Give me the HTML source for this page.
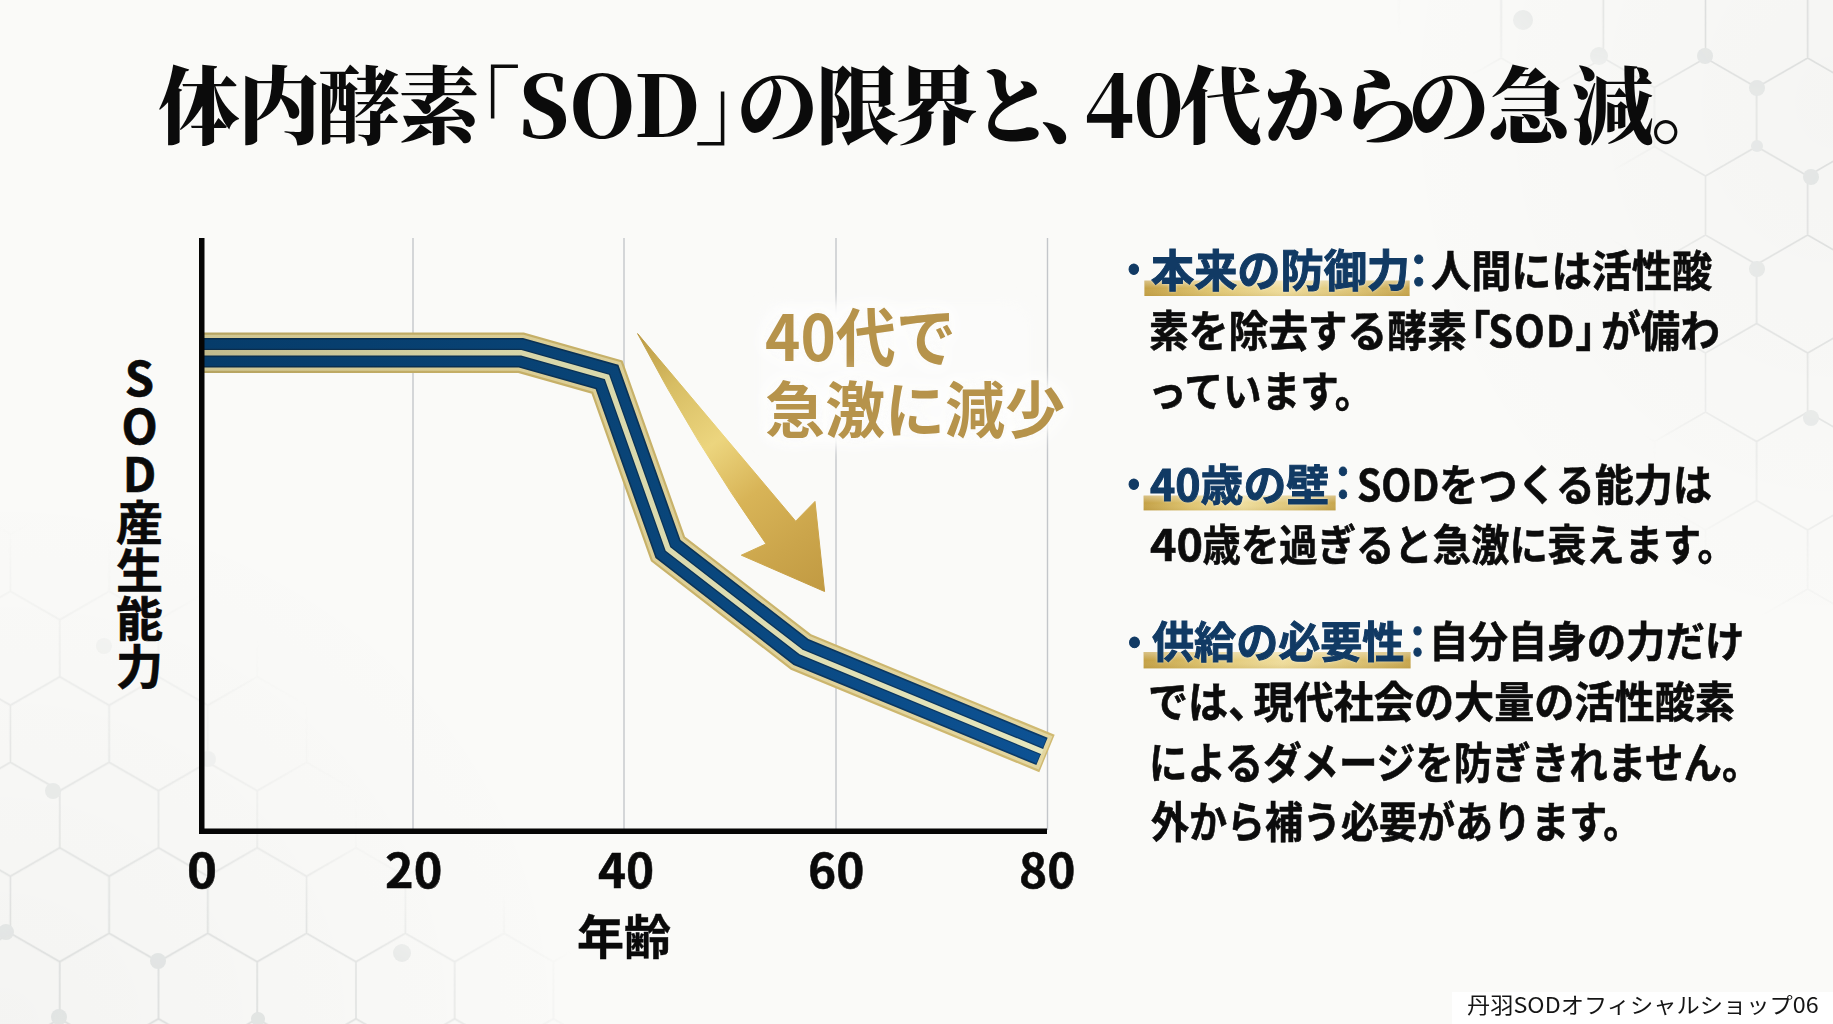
<!DOCTYPE html>
<html lang="ja">
<head>
<meta charset="utf-8">
<title>体内酵素「SOD」の限界と、40代からの急減。</title>
<style>
html,body{margin:0;padding:0;}
body{width:1833px;height:1024px;overflow:hidden;position:relative;background:radial-gradient(ellipse 600px 560px at 0% 100%,rgba(0,0,0,0.022),rgba(0,0,0,0) 100%),radial-gradient(ellipse 460px 560px at 100% 10%,rgba(0,0,0,0.02),rgba(0,0,0,0) 100%),#fafaf8;
  font-family:"Liberation Sans","Noto Sans CJK JP",sans-serif;color:#0a0a0a;}
#bg{position:absolute;left:0;top:0;width:1833px;height:1024px;}
.t{position:absolute;white-space:nowrap;line-height:1;margin:0;transform-origin:0 0;text-spacing-trim:space-all;}
.t span{display:inline-block;}
#title{left:158px;top:58.5px;transform:scaleY(1.025);font-family:"Noto Serif CJK JP","Noto Serif CJK SC","Liberation Serif",serif;
  font-weight:900;font-size:82px;letter-spacing:-2px;color:#0b0b0b;}
#title span{display:inline-block;}
.sans{font-family:"Noto Sans CJK JP","Liberation Sans",sans-serif;font-weight:700;-webkit-text-stroke:0.4px;}
.b{font-family:"Noto Sans CJK JP","Liberation Sans",sans-serif;font-weight:700;color:#0c0c0c;-webkit-text-stroke:0.6px;}
.hl{color:#113a64;-webkit-text-stroke:1px;text-shadow:0 0 2px rgba(255,255,255,0.7),0 0 4px rgba(255,255,255,0.5);}
.tick{font-family:"Noto Sans CJK JP","Liberation Sans",sans-serif;font-weight:700;-webkit-text-stroke:0.5px;}
#ylab{left:116px;top:355px;-webkit-text-stroke:0.6px;writing-mode:vertical-rl;text-orientation:upright;font-size:47px;letter-spacing:1px;
  font-family:"Noto Sans CJK JP","Liberation Sans",sans-serif;font-weight:700;}
.gold{font-family:"Noto Sans CJK JP","Liberation Sans",sans-serif;font-weight:700;color:#b6934b;
  text-shadow:0 0 6px #fbfbfa,0 0 10px #fbfbfa,0 0 16px #fbfbfa,0 0 22px #fbfbfa,0 0 28px #fbfbfa;}
#wm{position:absolute;left:1452px;top:992px;width:381px;height:32px;background:#fff;}
#wmt{font-family:"Noto Sans CJK JP","Liberation Sans",sans-serif;font-weight:400;color:#151515;}
</style>
</head>
<body>
<svg id="bg" width="1833" height="1024" viewBox="0 0 1833 1024">
  <defs>
    <linearGradient id="gArrow" x1="637" y1="333" x2="826" y2="591" gradientUnits="userSpaceOnUse">
      <stop offset="0" stop-color="#ba9842"/><stop offset="0.2" stop-color="#d8be64"/><stop offset="0.42" stop-color="#ecd57e"/><stop offset="0.62" stop-color="#d8b457"/><stop offset="0.82" stop-color="#cba54b"/><stop offset="1" stop-color="#c19a42"/>
    </linearGradient>
    <linearGradient id="rBlue" x1="204" y1="0" x2="1047" y2="0" gradientUnits="userSpaceOnUse">
      <stop offset="0" stop-color="#063c6a"/><stop offset="0.5" stop-color="#094477"/><stop offset="0.72" stop-color="#0a4a84"/><stop offset="1" stop-color="#0d5294"/>
    </linearGradient>
    <linearGradient id="rNavy" x1="204" y1="0" x2="1047" y2="0" gradientUnits="userSpaceOnUse">
      <stop offset="0" stop-color="#0a2d4c"/><stop offset="0.6" stop-color="#0a3358"/><stop offset="1" stop-color="#0b3a68"/>
    </linearGradient>
    <linearGradient id="rCream" x1="204" y1="0" x2="1047" y2="0" gradientUnits="userSpaceOnUse">
      <stop offset="0" stop-color="#c2bb8e"/><stop offset="0.35" stop-color="#d6d5a8"/><stop offset="1" stop-color="#e6e6bd"/>
    </linearGradient>
    <linearGradient id="rGoldD" x1="204" y1="0" x2="1047" y2="0" gradientUnits="userSpaceOnUse">
      <stop offset="0" stop-color="#b6a462"/><stop offset="0.3" stop-color="#c4ae66"/><stop offset="1" stop-color="#d0ba72"/>
    </linearGradient>
    <linearGradient id="rGoldL" x1="204" y1="0" x2="1047" y2="0" gradientUnits="userSpaceOnUse">
      <stop offset="0" stop-color="#cfc693"/><stop offset="0.3" stop-color="#d9cc94"/><stop offset="1" stop-color="#e3d6a0"/>
    </linearGradient>
    <filter id="blur8" x="-20%" y="-20%" width="140%" height="140%"><feGaussianBlur stdDeviation="7"/></filter>
    <linearGradient id="gUl" x1="0" y1="0" x2="1" y2="0">
      <stop offset="0" stop-color="#c4a146"/>
      <stop offset="0.25" stop-color="#dfc570"/>
      <stop offset="0.52" stop-color="#efdd9c"/>
      <stop offset="0.8" stop-color="#dcc272"/>
      <stop offset="1" stop-color="#c6a54c"/>
    </linearGradient>
    <linearGradient id="gUlv" x1="0" y1="0" x2="0" y2="1">
      <stop offset="0" stop-color="#fff" stop-opacity="0.35"/>
      <stop offset="0.5" stop-color="#fff" stop-opacity="0"/>
      <stop offset="1" stop-color="#8a6a20" stop-opacity="0.12"/>
    </linearGradient>
    <pattern id="hexA" width="98.73" height="171.00" patternUnits="userSpaceOnUse" patternTransform="translate(158.5,762.3)"><path d="M49.36,0 L98.73,28.50 L98.73,85.50 L49.36,114.00 L0,85.50 L0,28.50 Z M49.36,114.00 L49.36,171.00" fill="none" stroke="#d9dbda" stroke-width="1.6"/></pattern>
    <pattern id="hexB" width="102.19" height="177.00" patternUnits="userSpaceOnUse" patternTransform="translate(1756.6,58.0)"><path d="M51.10,0 L102.19,29.50 L102.19,88.50 L51.10,118.00 L0,88.50 L0,29.50 Z M51.10,118.00 L51.10,177.00" fill="none" stroke="#d9dbda" stroke-width="1.6"/></pattern>
    <radialGradient id="fade" cx="0.5" cy="0.5" r="0.5">
      <stop offset="0" stop-color="#fff" stop-opacity="0.85"/><stop offset="0.55" stop-color="#fff" stop-opacity="0.6"/><stop offset="1" stop-color="#fff" stop-opacity="0"/>
    </radialGradient>
    <mask id="mA" maskUnits="userSpaceOnUse" x="0" y="0" width="1833" height="1024"><rect x="-400" y="520" width="800" height="1008" fill="url(#fade)"/><rect x="-100" y="830" width="700" height="400" fill="url(#fade)"/></mask>
    <mask id="mB" maskUnits="userSpaceOnUse" x="0" y="0" width="1833" height="1024"><rect x="1610" y="-220" width="446" height="860" fill="url(#fade)"/><rect x="1380" y="-110" width="700" height="220" fill="url(#fade)"/></mask>
  </defs>
  <!-- faint molecular hex background -->
  <g mask="url(#mA)"><rect x="0" y="250" width="800" height="774" fill="url(#hexA)"/>
    <g fill="#dfe2e1"><circle cx="104" cy="646" r="8"/><circle cx="53" cy="791" r="8"/><circle cx="208" cy="759" r="8"/><circle cx="6" cy="932" r="8"/><circle cx="158" cy="961" r="8"/><circle cx="402" cy="953" r="9"/><circle cx="59" cy="1017" r="8"/><circle cx="258" cy="1019" r="7"/></g></g>
  <g mask="url(#mB)"><rect x="1250" y="0" width="583" height="640" fill="url(#hexB)"/>
    <g fill="#dfe2e1"><circle cx="1599" cy="56" r="9"/><circle cx="1705" cy="56" r="8"/><circle cx="1757" cy="88" r="8"/><circle cx="1757" cy="146" r="6"/><circle cx="1811" cy="177" r="8"/><circle cx="1757" cy="269" r="8"/><circle cx="1811" cy="418" r="8"/><circle cx="1523" cy="20" r="10"/></g></g>
  <!-- plot area -->
  
  <!-- gridlines -->
  <g stroke="#c3c6ca" stroke-width="1.4">
    <line x1="413" y1="238" x2="413" y2="830"/>
    <line x1="624" y1="238" x2="624" y2="830"/>
    <line x1="836" y1="238" x2="836" y2="830"/>
    <line x1="1047.5" y1="238" x2="1047.5" y2="830"/>
  </g>
  <!-- soft white glow behind the gold caption -->
  <rect x="760" y="303" width="270" height="142" rx="20" fill="#fbfbfa" filter="url(#blur8)"/>
  <!-- ribbon -->
  <g fill="none" stroke-linejoin="miter" stroke-miterlimit="10">
    <polyline points="204,352.7 521,352.7 607,377 668,549 801,652 1047,753.5" stroke="url(#rGoldD)" stroke-width="40.4"/>
    <polyline points="204,352.7 521,352.7 607,377 668,549 801,652 1045.6,752.9" stroke="url(#rGoldL)" stroke-width="36"/>
    <polyline points="204,352.7 521,352.7 607,377 668,549 801,652 1042,751.4" stroke="url(#rNavy)" stroke-width="29.6"/>
    <polyline points="204,352.7 521,352.7 607,377 668,549 801,652 1041.2,751.1" stroke="url(#rBlue)" stroke-width="26.4"/>
    <polyline points="204,352.7 521,352.7 607,377 668,549 801,652 1042,751.4" stroke="url(#rNavy)" stroke-width="8"/>
    <polyline points="204,352.7 521,352.7 607,377 668,549 801,652 1042.6,751.7" stroke="url(#rCream)" stroke-width="5.4"/>
  </g>
  <!-- arrow -->
  <path d="M637.6,333.6 L795.7,521.2 L815,501.4 L824.6,591.5 L741.3,555.2 L766,543.9 Q695,443 637.6,333.6 Z" fill="url(#gArrow)" stroke="url(#gArrow)" stroke-width="1" stroke-linejoin="round"/>
  <!-- axes -->
  <rect x="199" y="238" width="5.5" height="596" fill="#050505"/>
  <rect x="199" y="828.5" width="848" height="5.5" fill="#050505"/>
  <!-- underline highlights -->
  <g>
    <rect x="1144.4" y="280.6" width="265.2" height="15.4" fill="url(#gUl)"/><rect x="1144.4" y="280.6" width="265.2" height="15.4" fill="url(#gUlv)"/>
    <rect x="1143.6" y="495.6" width="192" height="14.8" fill="url(#gUl)"/><rect x="1143.6" y="495.6" width="192" height="14.8" fill="url(#gUlv)"/>
    <rect x="1143.6" y="652" width="267" height="16.4" fill="url(#gUl)"/><rect x="1143.6" y="652" width="267" height="16.4" fill="url(#gUlv)"/>
  </g>
</svg>

<div id="title" class="t">体内酵素<span style="margin-left:-40px">「</span><span style="margin:0 -5px 0 1px;letter-spacing:0.5px">SOD</span><span style="margin-right:-39px">」</span>の限界<span style="margin-left:-5px">と</span><span style="margin:0 -36px 0 -11px">、</span><span style="letter-spacing:-1px;margin-right:-2.5px">40</span>代<span style="margin-left:3px">か</span><span style="margin-left:-3.5px">ら</span><span style="margin-left:-12px">の</span>急<span style="margin-left:4px">減</span><span style="margin-left:-1px">。</span></div>

<div id="ylab" class="t">SOD産生能力</div>
<div id="wm"></div>

<div class="t tick" id="t0" style="left:187.11px;top:844.70px;font-size:46.81px;transform:scaleX(1.0887);">0</div>
<div class="t tick" id="t20" style="left:385.12px;top:844.70px;font-size:46.81px;transform:scaleX(1.0371);">20</div>
<div class="t tick" id="t40" style="left:597.53px;top:844.70px;font-size:46.81px;transform:scaleX(1.0183);">40</div>
<div class="t tick" id="t60" style="left:807.95px;top:844.70px;font-size:46.81px;transform:scaleX(1.0216);">60</div>
<div class="t tick" id="t80" style="left:1018.56px;top:844.70px;font-size:46.81px;transform:scaleX(1.0216);">80</div>
<div class="t sans" id="xlab" style="left:576.96px;top:909.91px;font-size:47.05px;transform:scaleX(0.9998);">年齢</div>
<div class="t gold" id="g1" style="left:765.09px;top:301.96px;font-size:63.92px;transform:scaleX(0.9397);">40代で</div>
<div class="t gold" id="g2" style="left:765.47px;top:375.61px;font-size:61.48px;transform:scaleX(0.9764);">急激に減少</div>
<div class="t b hl" id="d1" style="left:1114.72px;top:247.52px;font-size:40.73px;transform:scaleX(0.9249);">・</div>
<div class="t b hl" id="b1a" style="left:1150.76px;top:246.37px;font-size:44.60px;transform:scaleX(0.9680);">本来の防御力</div>
<div class="t b hl" id="c1" style="left:1396.53px;top:244.59px;font-size:45.93px;transform:scaleX(0.9472);">：</div>
<div class="t b" id="b1b" style="left:1431.40px;top:246.85px;font-size:43.00px;transform:scaleX(0.9342);">人間には活性酸</div>
<div class="t b" id="b2" style="left:1149.01px;top:307.42px;font-size:43.60px;transform:scaleX(0.9110);">素を除去する酵素<span style="margin:0 -0.06em 0 -0.40em">「</span><span style="letter-spacing:0.03em">SOD</span><span style="margin:0 -0.36em 0 0em">」</span>が備わ</div>
<div class="t b" id="b3" style="left:1147.50px;top:368.15px;font-size:42.38px;transform:scaleX(0.9090);">っています。</div>
<div class="t b hl" id="d4" style="left:1114.72px;top:462.52px;font-size:40.73px;transform:scaleX(0.9249);">・</div>
<div class="t b hl" id="b4a" style="left:1150.37px;top:461.33px;font-size:43.70px;transform:scaleX(0.9815);">40歳の壁</div>
<div class="t b hl" id="c4" style="left:1323.00px;top:456.79px;font-size:46.37px;transform:scaleX(0.8626);">：</div>
<div class="t b" id="b4b" style="left:1357.44px;top:460.75px;font-size:42.90px;transform:scaleX(0.9106);">SODをつくる能力は</div>
<div class="t b" id="b5" style="left:1149.66px;top:520.79px;font-size:42.70px;transform:scaleX(0.8986);"><span style="transform:scaleX(1.17);transform-origin:0 50%;margin-right:0.19em">40</span>歳を過ぎると急激に衰えます。</div>
<div class="t b hl" id="d6" style="left:1114.65px;top:618.70px;font-size:42.18px;transform:scaleX(0.9246);">・</div>
<div class="t b hl" id="b6a" style="left:1151.97px;top:617.78px;font-size:43.60px;transform:scaleX(0.9650);">供給の必要性</div>
<div class="t b hl" id="c6" style="left:1397.75px;top:617.50px;font-size:43.85px;transform:scaleX(0.8919);">：</div>
<div class="t b" id="b6b" style="left:1429.38px;top:618.16px;font-size:42.30px;transform:scaleX(0.9320);">自分自身の力だけ</div>
<div class="t b" id="b7" style="left:1148.39px;top:678.46px;font-size:43.40px;transform:scaleX(0.9245);">では<span style="margin-right:-0.37em">、</span>現代社会の大量の活性酸素</div>
<div class="t b" id="b8" style="left:1148.66px;top:738.62px;font-size:42.80px;transform:scaleX(0.8990);">によるダメージを防ぎきれません。</div>
<div class="t b" id="b9" style="left:1150.82px;top:797.79px;font-size:42.70px;transform:scaleX(0.8905);">外から補う必要があります。</div>
<div class="t " id="wmt" style="left:1466.94px;top:992.83px;font-size:21.79px;transform:scaleX(1.0677);">丹羽SODオフィシャルショップ06</div>
</body>
</html>
